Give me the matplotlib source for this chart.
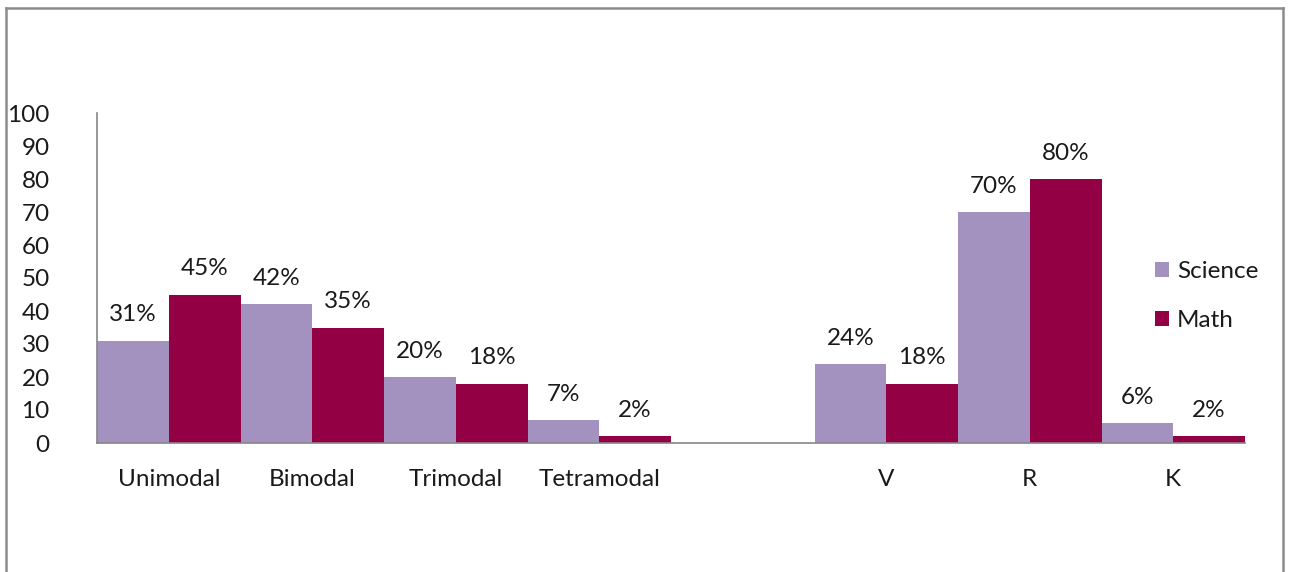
import matplotlib
matplotlib.use("Agg")
import matplotlib.pyplot as plt
import numpy as np
from matplotlib.lines import Line2D

categories = ["Unimodal", "Bimodal", "Trimodal", "Tetramodal", "", "V", "R", "K"]
science = [31, 42, 20, 7, np.nan, 24, 70, 6]
math_vals = [45, 35, 18, 2, np.nan, 18, 80, 2]
yticks = [0, 10, 20, 30, 40, 50, 60, 70, 80, 90, 100]

SCI = "#A391BF"
MATH = "#940044"
GRID = "#868686"
TXT = "#1a1a1a"
FS = 17.5

plt.rcParams['font.family'] = ['Lato', 'DejaVu Sans']

W, H = 1290, 572
fig = plt.figure(figsize=(W / 100, H / 100), dpi=100)
ax = fig.add_axes([97 / W, 1 - 443 / H, (1245 - 97) / W, (443 - 113) / H])

x = np.arange(len(categories))
bw = 0.5
b1 = ax.bar(x - bw / 2, science, bw, color=SCI, label="Science", zorder=2)
b2 = ax.bar(x + bw / 2, math_vals, bw, color=MATH, label="Math", zorder=2)

for bars, vals in ((b1, science), (b2, math_vals)):
    for rect, v in zip(bars, vals):
        if np.isnan(v):
            continue
        ax.annotate(f"{int(v)}%", (rect.get_x() + rect.get_width() / 2, v),
                    xytext=(0, 11), textcoords="offset points",
                    ha="center", va="bottom", fontsize=FS, color=TXT)

ax.set_xlim(-0.5, len(categories) - 0.5)
ax.set_ylim(0, 100)
ax.set_yticks(yticks)
ax.set_yticklabels([str(t) for t in yticks])
ax.set_xticks(x)
ax.set_xticklabels(categories)
ax.tick_params(axis="y", length=0, pad=34, labelsize=FS, labelcolor=TXT)
ax.tick_params(axis="x", length=0, pad=19, labelsize=FS, labelcolor=TXT)
for s in ("top", "right"):
    ax.spines[s].set_visible(False)
for s in ("left", "bottom"):
    ax.spines[s].set_color(GRID)
    ax.spines[s].set_linewidth(1.2)

leg = fig.legend(handles=[b1, b2], labels=["Science", "Math"],
                 loc="upper left", bbox_to_anchor=(1133 / W, 1 - 239 / H),
                 frameon=False, fontsize=FS, handlelength=0.6, handleheight=0.6,
                 handletextpad=0.3, labelspacing=1.15)
for t in leg.get_texts():
    t.set_color(TXT)

# outer chart border
fc = "#8c8c8c"
fig.add_artist(Line2D([6 / W, 6 / W], [0, 1 - 8 / H], color=fc, lw=1.8, transform=fig.transFigure))
fig.add_artist(Line2D([1283 / W, 1283 / W], [0, 1 - 8 / H], color=fc, lw=1.8, transform=fig.transFigure))
fig.add_artist(Line2D([6 / W, 1283 / W], [1 - 8 / H, 1 - 8 / H], color=fc, lw=1.8, transform=fig.transFigure))

fig.savefig("out.png", dpi=100)
